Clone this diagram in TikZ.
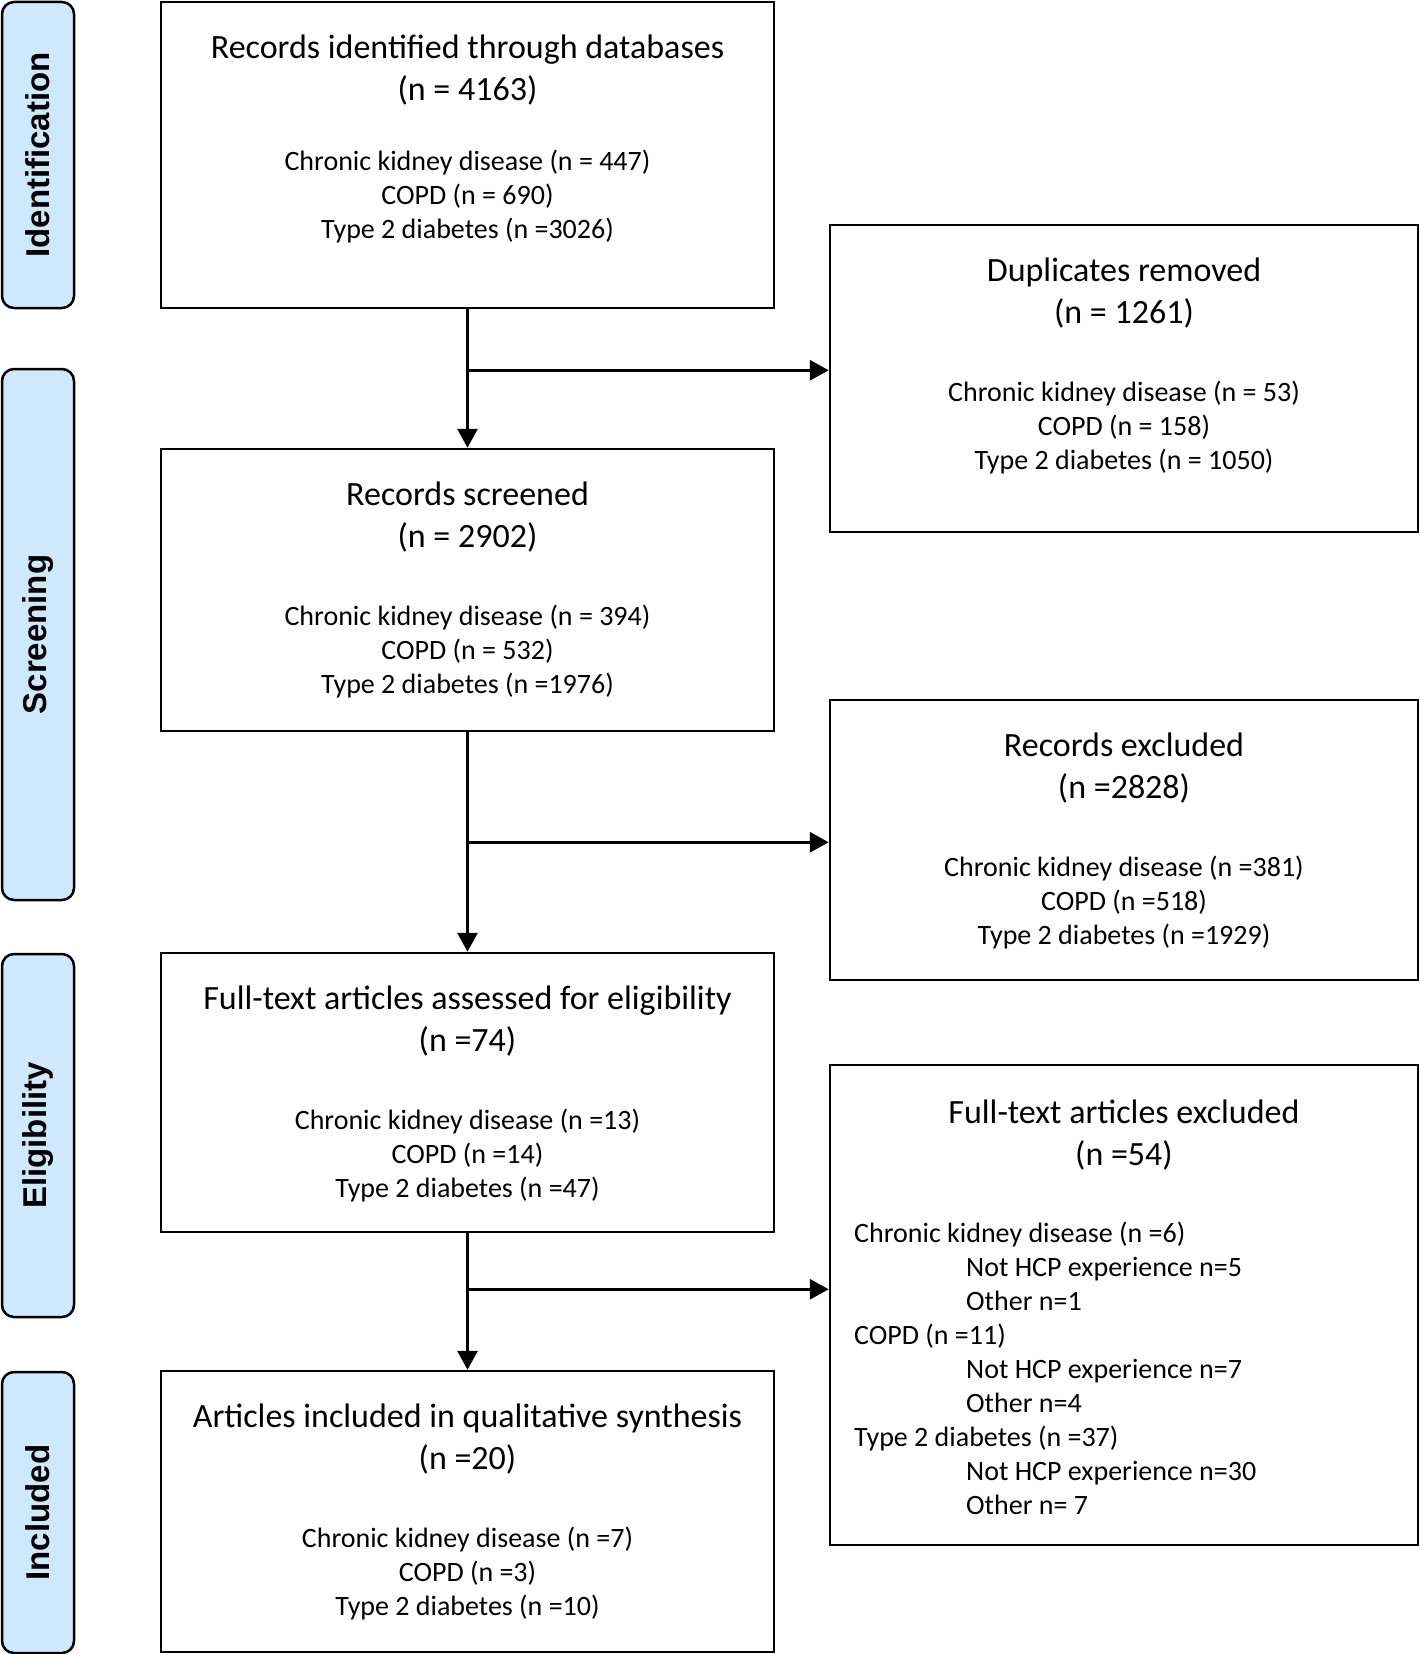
\documentclass[tikz,border=0pt]{standalone}
\usepackage{fontspec}
\setmainfont{Carlito}
\newfontfamily\phasefont{Liberation Sans}
\usepackage{tikz}
\usetikzlibrary{arrows.meta}
\definecolor{phaseblue}{RGB}{207,232,252}

\begin{document}
\begin{tikzpicture}[x=1pt, y=-1pt,
		phase/.style={draw=black, line width=2.5pt, rounded corners=12pt,
			fill=phaseblue, rotate=90, minimum height=72pt,
			font=\phasefont\bfseries\fontsize{33}{40}\selectfont},
		stagebox/.style={draw=black, line width=2.5pt, inner sep=0pt},
		head/.style={anchor=north, align=center, inner sep=0pt,
			font=\fontsize{34}{42}\selectfont},
		counts/.style={anchor=north, align=center, inner sep=0pt,
			font=\fontsize{28}{34}\selectfont},
		arr/.style={line width=3.3pt, -{Triangle[length=19pt, width=20pt]}}]
	\useasboundingbox (0,0) rectangle (1420,1654);
	% phases
	\draw (38,155) node[phase, minimum width=306pt] (ident) {Identification};
	\draw (38,634.5) node[phase, minimum width=531pt] (screen) {Screening};
	\draw (38,1135.5) node[phase, minimum width=363pt] (elig) {Eligibility};
	\draw (38,1512.5) node[phase, minimum width=281pt] (incl) {Included};
	% main column
	\draw (467.5,155) node[stagebox, minimum width=613pt, minimum height=306pt] (recid) {};
	\draw (467.5,590) node[stagebox, minimum width=613pt, minimum height=282pt] (recscr) {};
	\draw (467.5,1092.5) node[stagebox, minimum width=613pt, minimum height=279pt] (fulltxt) {};
	\draw (467.5,1511.5) node[stagebox, minimum width=613pt, minimum height=281pt] (qualsyn) {};
	% right column
	\draw (1124,378.5) node[stagebox, minimum width=588pt, minimum height=307pt] (dup) {};
	\draw (1124,840) node[stagebox, minimum width=588pt, minimum height=280pt] (recexc) {};
	\draw (1124,1305) node[stagebox, minimum width=588pt, minimum height=480pt] (ftexc) {};
	% texts
	\node[head] (recidh) at ([yshift=-34pt]recid.north) {Records identified through databases\\(n = 4163)};
	\node[counts] (recidc) at ([yshift=-149pt]recid.north) {Chronic kidney disease (n = 447)\\COPD (n = 690)\\Type 2 diabetes (n =3026)};
	\node[head] (recscrh) at ([yshift=-34pt]recscr.north) {Records screened\\(n = 2902)};
	\node[counts] (recscrc) at ([yshift=-157pt]recscr.north) {Chronic kidney disease (n = 394)\\COPD (n = 532)\\Type 2 diabetes (n =1976)};
	\node[head] (fulltxth) at ([yshift=-34pt]fulltxt.north) {Full-text articles assessed for eligibility\\(n =74)};
	\node[counts] (fulltxtc) at ([yshift=-157pt]fulltxt.north) {Chronic kidney disease (n =13)\\COPD (n =14)\\Type 2 diabetes (n =47)};
	\node[head] (qualsynh) at ([yshift=-34pt]qualsyn.north) {Articles included in qualitative synthesis\\(n =20)};
	\node[counts] (qualsync) at ([yshift=-157pt]qualsyn.north) {Chronic kidney disease (n =7)\\COPD (n =3)\\Type 2 diabetes (n =10)};
	\node[head] (duph) at ([yshift=-34pt]dup.north) {Duplicates removed\\(n = 1261)};
	\node[counts] (dupc) at ([yshift=-157pt]dup.north) {Chronic kidney disease (n = 53)\\COPD (n = 158)\\Type 2 diabetes (n = 1050)};
	\node[head] (recexch) at ([yshift=-34pt]recexc.north) {Records excluded\\(n =2828)};
	\node[counts] (recexcc) at ([yshift=-157pt]recexc.north) {Chronic kidney disease (n =381)\\COPD (n =518)\\Type 2 diabetes (n =1929)};
	\node[head] (ftexch) at ([yshift=-36pt]ftexc.north) {Full-text articles excluded\\(n =54)};
	\node[counts, anchor=north west, align=left] (ftexcc) at (854,1222) {Chronic kidney disease (n =6)\\
		\hspace*{112pt}Not HCP experience n=5\\
		\hspace*{112pt}Other n=1\\
		COPD (n =11)\\
		\hspace*{112pt}Not HCP experience n=7\\
		\hspace*{112pt}Other n=4\\
		Type 2 diabetes (n =37)\\
		\hspace*{112pt}Not HCP experience n=30\\
		\hspace*{112pt}Other n= 7};
	% arrows
	\path (recid.south) ++(0,61) coordinate (j1);
	\path (recscr.south) ++(0,110) coordinate (j2);
	\path (fulltxt.south) ++(0,56) coordinate (j3);
	\draw[arr] (recid) -- (recscr);
	\draw[arr] (recscr) -- (fulltxt);
	\draw[arr] (fulltxt) -- (qualsyn);
	\draw[arr] (j1) -- (j1 -| dup.west);
	\draw[arr] (j2) -- (j2 -| recexc.west);
	\draw[arr] (j3) -- (j3 -| ftexc.west);
\end{tikzpicture}
\end{document}
